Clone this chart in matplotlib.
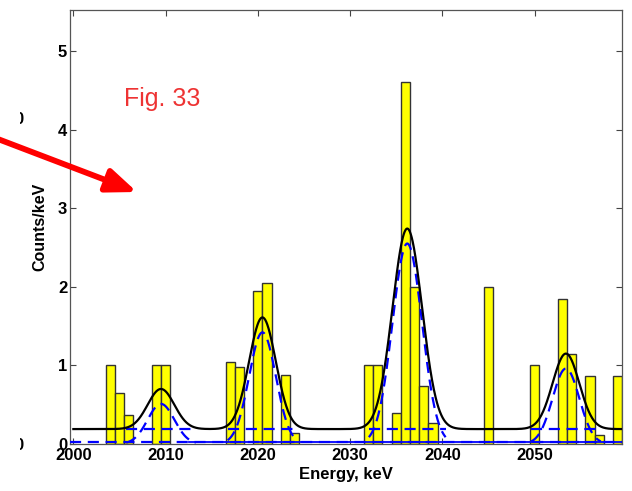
import numpy as np
import matplotlib
matplotlib.use('Agg')
import matplotlib.pyplot as plt
from matplotlib.patches import Rectangle

plt.rcParams['font.family'] = ['Liberation Sans', 'DejaVu Sans']

# histogram, 1 keV bins centred on integer energies
bin_energy = [2004, 2005, 2006, 2009, 2010, 2017, 2018, 2020, 2021, 2023, 2024,
              2032, 2033, 2035, 2036, 2037, 2038, 2039, 2045, 2050, 2053, 2054,
              2056, 2057, 2059]
bin_counts = [1.0, 0.65, 0.37, 1.0, 1.0, 1.04, 0.975, 1.95, 2.05, 0.88, 0.14,
              1.0, 1.0, 0.39, 4.6, 2.0, 0.74, 0.27, 2.0, 1.0, 1.84, 1.145,
              0.87, 0.12, 0.86]

# fit: flat background + gaussian lines
background = 0.19
baseline = 0.02
peak_pos = [2009.5, 2020.5, 2036.2, 2053.4]
peak_amp = [0.51, 1.42, 2.55, 0.96]
peak_sigma = [1.45, 1.45, 1.6, 1.45]

xticks = [2000, 2010, 2020, 2030, 2040, 2050]
yticks = [0, 1, 2, 3, 4, 5]


def gauss(x, mu, a, s):
	return a * np.exp(-0.5 * ((x - mu) / s) ** 2)


fig = plt.figure(figsize=(6.32, 4.91), dpi=100)
ax = fig.add_axes([0.1108, 0.0957, 0.8734, 0.8839])

ax.bar(bin_energy, bin_counts, width=1.0, color='#ffff00', edgecolor='#333333', linewidth=1.0, zorder=2)

# bottom baseline
ax.plot([1999.6, 2060], [baseline, baseline], color='blue', linestyle='--', dashes=(5, 3), lw=1.6, zorder=3)
ax.plot([2012.5, 2060], [baseline, baseline], color='blue', lw=1.3, zorder=3)

# components
for mu, a, s in zip(peak_pos, peak_amp, peak_sigma):
	xs = np.linspace(mu - 2.6 * s, mu + 2.6 * s, 200)
	ax.plot(xs, gauss(xs, mu, a, s), color='blue', linestyle='--', dashes=(5, 3), lw=1.6, zorder=4)
	ax.plot([xs[0], xs[-1]], [background, background], color='blue', linestyle='--', dashes=(5, 3), lw=1.6, zorder=4)

# total fit
x = np.linspace(2000, 2060, 1200)
y = background + sum(gauss(x, mu, a, s) for mu, a, s in zip(peak_pos, peak_amp, peak_sigma))
ax.plot(x, y, color='black', lw=1.6, zorder=5)

ax.set_xlim(1999.64, 2059.48)
ax.set_ylim(0, 5.52)
ax.set_xticks(xticks)
ax.set_yticks(yticks)
ax.tick_params(direction='in', length=4, width=0.8, color='#444444', top=True, right=True,
	labelsize=12, pad=2)
ax.tick_params(axis='x', pad=3)
for lab in ax.get_xticklabels() + ax.get_yticklabels():
	lab.set_fontweight('bold')
for sp in ax.spines.values():
	sp.set_color('#555555')
	sp.set_linewidth(0.9)

ax.set_xlabel('Energy, keV', fontsize=12, fontweight='bold', labelpad=3)
ax.set_ylabel('Counts/keV', fontsize=11.5, fontweight='bold', labelpad=8)

# red annotation
fig.text(124 / 632, 1 - 106 / 491, 'Fig. 33', color='#ee3333', fontsize=18, ha='left', va='baseline')
ax.annotate('', xy=(137, 491 - 192), xycoords='figure pixels',
	xytext=(-10, 491 - 136), textcoords='figure pixels',
	arrowprops=dict(arrowstyle='-|>,head_length=1.5,head_width=0.6', color='#ff0000', lw=4.2,
		shrinkA=0, shrinkB=0, mutation_scale=12),
	annotation_clip=False)

# clipped labels of a neighbouring panel
for ypix in [120, 446]:
	fig.text(19 / 632, 1 - ypix / 491, '0', fontsize=12, fontweight='bold', ha='center', va='center', zorder=3)
	fig.patches.append(Rectangle((0, (491 - ypix - 9) / 491), 19.5 / 632, 18 / 491,
		transform=fig.transFigure, facecolor='white', edgecolor='none', zorder=6))

fig.savefig('out.png', dpi=100)
